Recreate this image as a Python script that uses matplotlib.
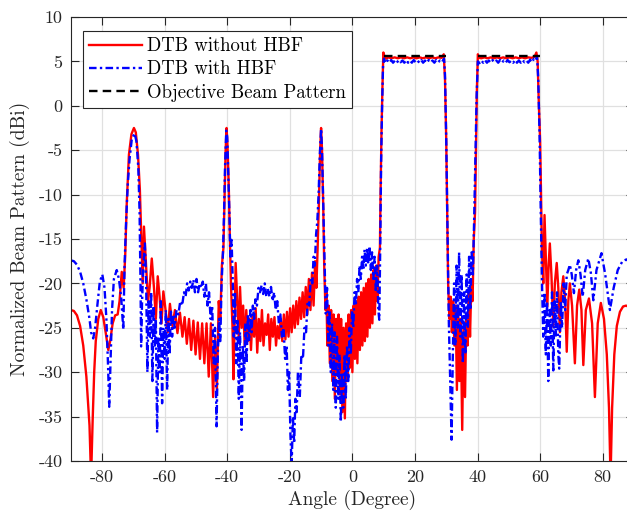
# Beam pattern comparison: DTB with / without HBF against the objective pattern
import numpy as np
import matplotlib
matplotlib.use('Agg')
import matplotlib.pyplot as plt

plt.rcParams['font.family'] = ['cmr10', 'DejaVu Serif']
plt.rcParams['axes.unicode_minus'] = False
plt.rcParams['mathtext.fontset'] = 'cm'

# values (angle in degree, pattern in dBi)
red_pts = [
    (-90, -23.0), (-89, -23.1), (-88, -23.6), (-87, -24.8), (-86, -27.0), (-85, -30.5),
    (-84, -36.0), (-83.5, -42.0), (-83, -35.5), (-82.5, -30.0), (-82, -26.5), (-81.2, -24.0),
    (-80.4, -23.0), (-79.6, -23.8), (-78.8, -25.6), (-78.0, -27.5), (-77.4, -26.5),
    (-76.6, -24.5), (-75.8, -23.6), (-75.0, -23.5), (-74.4, -22.0), (-73.7, -18.7),
    (-73.1, -20.5), (-72.6, -17.0), (-72.1, -11.0), (-71.4, -5.5), (-70.6, -3.2),
    (-69.8, -2.5), (-69.2, -3.0), (-68.5, -5.5), (-67.9, -9.5), (-67.5, -14.0),
    (-67.0, -20.0), (-66.6, -13.6), (-66.0, -17.5), (-65.3, -22.0), (-64.8, -20.5),
    (-64.1, -17.2), (-63.4, -20.5), (-62.8, -24.0), (-62.2, -19.2), (-61.6, -21.5),
    (-61.0, -24.5), (-60.4, -20.9), (-59.7, -23.0), (-59.0, -25.5), (-58.3, -22.3),
    (-57.5, -24.8), (-56.7, -23.0), (-55.9, -25.6), (-55.1, -23.3), (-54.3, -26.0),
    (-53.6, -23.8), (-52.9, -26.8), (-52.2, -24.0), (-51.5, -27.5), (-50.8, -24.2),
    (-50.1, -28.0), (-49.4, -24.4), (-48.7, -28.5), (-48.0, -24.5), (-47.3, -29.0),
    (-46.6, -24.5), (-45.9, -30.5), (-45.2, -24.5), (-44.5, -32.8), (-43.9, -26.0),
    (-43.3, -32.0), (-42.7, -22.0), (-42.2, -24.0), (-41.7, -18.0), (-41.2, -16.0),
    (-40.8, -10.0), (-40.5, -5.0), (-40.2, -2.5), (-39.9, -4.5), (-39.5, -9.0),
    (-39.2, -14.0), (-38.8, -20.0), (-38.3, -25.0), (-38.0, -30.8), (-37.6, -24.0),
    (-37.3, -17.7), (-36.8, -22.0), (-36.3, -26.0), (-35.9, -20.4), (-35.4, -25.0),
    (-34.9, -22.5), (-34.4, -27.0), (-33.9, -23.0), (-33.4, -26.5), (-32.9, -24.0),
    (-32.4, -27.5), (-31.9, -23.5), (-31.4, -26.0), (-30.9, -22.8), (-30.4, -27.8),
    (-29.9, -24.0), (-29.4, -26.5), (-28.9, -23.0), (-28.4, -27.0), (-27.9, -24.5),
    (-27.4, -25.8), (-26.9, -23.5), (-26.4, -27.5), (-25.9, -24.0), (-25.4, -26.0),
    (-24.9, -23.8), (-24.4, -27.0), (-23.9, -24.8), (-23.4, -26.2), (-22.9, -24.0),
    (-22.4, -26.5), (-21.9, -23.5), (-21.4, -26.3), (-20.9, -23.2), (-20.4, -26.0),
    (-19.9, -22.8), (-19.4, -25.5), (-18.9, -22.5), (-18.4, -25.0), (-17.9, -22.0),
    (-17.4, -24.6), (-16.9, -21.6), (-16.4, -24.0), (-15.9, -21.0), (-15.4, -23.8),
    (-14.9, -20.4), (-14.4, -23.5), (-13.9, -19.5), (-13.4, -23.0), (-12.9, -18.8),
    (-12.4, -22.5), (-11.9, -17.5), (-11.5, -20.5), (-11.1, -16.0), (-10.7, -11.0),
    (-10.3, -5.0), (-10.0, -2.5), (-9.7, -5.0), (-9.3, -11.5), (-9.0, -18.0),
    (-8.6, -23.0), (-8.3, -21.0), (-8.0, -27.0), (-7.6, -22.5), (-7.2, -29.0),
    (-6.8, -23.0), (-6.4, -31.0), (-6.0, -23.5), (-5.6, -33.0), (-5.2, -24.0),
    (-4.8, -30.0), (-4.4, -23.5), (-4.0, -32.5), (-3.6, -24.0), (-3.2, -34.5),
    (-2.8, -25.0), (-2.4, -35.2), (-2.0, -24.5), (-1.6, -31.0), (-1.2, -23.5),
    (-0.8, -29.5), (-0.4, -23.0), (0.0, -30.0), (0.4, -22.5), (0.8, -28.5),
    (1.2, -22.0), (1.6, -29.0), (2.0, -21.5), (2.4, -27.5), (2.8, -21.0),
    (3.2, -27.0), (3.6, -20.5), (4.0, -26.5), (4.4, -20.0), (4.8, -26.0),
    (5.2, -19.5), (5.6, -25.0), (6.0, -19.0), (6.4, -24.5), (6.8, -18.5),
    (7.2, -23.5), (7.6, -18.0), (8.0, -22.0), (8.4, -17.0), (8.8, -16.0),
    (9.0, -10.0), (9.3, -3.0), (9.6, 2.0), (9.9, 6.0), (10.3, 5.5), (10.8, 5.3),
    (11.5, 5.45), (12.5, 5.35), (13.5, 5.45), (14.5, 5.35), (15.5, 5.45), (16.5, 5.35),
    (17.5, 5.45), (18.5, 5.35), (19.5, 5.45), (20.5, 5.35), (21.5, 5.45), (22.5, 5.35),
    (23.5, 5.45), (24.5, 5.35), (25.5, 5.45), (26.5, 5.35), (27.5, 5.45), (28.5, 5.4),
    (29.2, 5.8), (29.6, 3.0), (30.0, -4.0), (30.3, -12.0), (30.6, -20.0),
    (31.0, -24.0), (31.4, -21.5), (31.8, -25.5), (32.2, -22.0), (32.6, -27.0),
    (33.0, -22.5), (33.4, -32.0), (33.8, -23.0), (34.2, -31.0), (34.6, -24.0),
    (35.1, -36.5), (35.5, -25.0), (36.0, -32.8), (36.4, -23.5), (36.8, -27.0),
    (37.2, -21.0), (37.6, -26.0), (38.0, -20.0), (38.4, -22.0), (38.8, -15.0),
    (39.2, -12.0), (39.5, -5.0), (39.8, 2.0), (40.1, 5.8), (40.5, 5.4),
    (41.2, 5.35), (42.2, 5.45), (43.2, 5.35), (44.2, 5.45), (45.2, 5.35), (46.2, 5.45),
    (47.2, 5.35), (48.2, 5.45), (49.2, 5.35), (50.2, 5.45), (51.2, 5.35), (52.2, 5.45),
    (53.2, 5.35), (54.2, 5.45), (55.2, 5.35), (56.2, 5.45), (57.2, 5.4), (58.2, 5.5),
    (58.8, 6.0), (59.2, 5.0), (59.6, 0.0), (60.0, -4.0), (60.3, -10.0), (60.6, -16.5),
    (61.0, -20.0), (61.4, -12.3), (61.8, -17.0), (62.3, -22.6), (62.7, -18.0),
    (63.1, -15.5), (63.6, -19.0), (64.2, -24.9), (64.7, -20.0), (65.3, -17.7),
    (65.8, -20.5), (66.3, -25.5), (66.8, -21.0), (67.4, -19.2), (68.0, -22.0),
    (68.5, -27.7), (69.0, -22.0), (69.5, -20.0), (70.2, -22.5), (71.1, -29.0),
    (71.8, -22.5), (72.5, -20.7), (73.2, -23.0), (73.8, -29.2), (74.6, -23.0),
    (75.6, -21.7), (76.6, -24.5), (77.5, -32.8), (78.4, -24.5), (79.4, -22.2),
    (80.4, -24.0), (81.3, -28.0), (82.0, -34.0), (82.5, -42.0), (83.0, -34.0),
    (83.7, -28.0), (84.5, -24.8), (85.5, -23.2), (86.5, -22.6), (87.5, -22.5),
    (88.5, -22.7), (90.0, -23.3),
]

blue_pts = [
    (-90, -17.4), (-89, -17.5), (-88, -17.9), (-87, -18.7), (-86, -20.0), (-85, -21.8),
    (-84, -24.0), (-83.5, -25.5), (-82.8, -26.2), (-82.2, -25.0), (-81.5, -22.5),
    (-80.7, -19.8), (-79.9, -19.0), (-79.2, -20.5), (-78.6, -24.0), (-78.1, -29.0),
    (-77.7, -33.9), (-77.3, -29.0), (-76.8, -23.0), (-76.2, -19.5), (-75.3, -18.5),
    (-74.6, -19.5), (-73.9, -21.5), (-73.2, -25.2), (-72.8, -18.0), (-72.3, -13.0),
    (-71.8, -9.0), (-71.2, -6.0), (-70.5, -3.8), (-69.6, -3.1), (-69.0, -4.0),
    (-68.4, -7.0), (-68.0, -12.0), (-67.7, -20.0), (-67.5, -27.1), (-67.2, -22.0),
    (-66.8, -18.0), (-66.3, -15.5), (-65.9, -20.0), (-65.5, -30.0), (-65.1, -22.0),
    (-64.7, -26.0), (-64.3, -21.0), (-63.9, -31.0), (-63.5, -22.5), (-63.1, -27.0),
    (-62.8, -24.0), (-62.4, -36.8), (-62.0, -26.0), (-61.6, -30.0), (-61.2, -22.0),
    (-60.8, -33.5), (-60.4, -25.0), (-60.0, -28.5), (-59.6, -23.0), (-59.2, -32.0),
    (-58.8, -24.0), (-58.4, -28.0), (-58.0, -23.0), (-57.6, -26.0), (-57.2, -23.5),
    (-56.8, -25.0), (-56.2, -23.0), (-55.6, -23.5), (-55.0, -22.0), (-54.4, -22.5),
    (-53.8, -21.0), (-53.3, -21.5), (-52.8, -20.0), (-52.3, -20.8), (-51.8, -19.8),
    (-51.3, -20.5), (-50.8, -19.6), (-50.3, -21.0), (-49.8, -19.5), (-49.3, -21.0),
    (-48.8, -20.0), (-48.3, -20.5), (-47.8, -19.8), (-47.3, -21.5), (-46.8, -20.0),
    (-46.3, -22.5), (-45.8, -21.0), (-45.3, -24.0), (-44.8, -22.5), (-44.3, -29.0),
    (-43.9, -25.0), (-43.4, -36.1), (-43.0, -28.0), (-42.6, -24.0), (-42.2, -26.5),
    (-41.8, -20.0), (-41.4, -17.0), (-41.0, -12.0), (-40.7, -7.0), (-40.3, -2.8),
    (-40.0, -3.5), (-39.7, -7.0), (-39.3, -12.0), (-39.0, -17.0), (-38.6, -15.1),
    (-38.2, -20.0), (-37.9, -26.0), (-37.5, -21.0), (-37.1, -29.0), (-36.7, -24.0),
    (-36.3, -33.0), (-35.9, -25.5), (-35.4, -36.5), (-35.0, -27.0), (-34.6, -31.0),
    (-34.2, -24.5), (-33.8, -29.0), (-33.4, -23.5), (-33.0, -26.5), (-32.6, -23.0),
    (-32.2, -25.5), (-31.8, -22.5), (-31.4, -24.0), (-31.0, -21.8), (-30.5, -22.5),
    (-30.0, -20.5), (-29.5, -21.0), (-29.0, -20.2), (-28.5, -21.2), (-28.0, -20.0),
    (-27.5, -21.5), (-27.0, -20.6), (-26.5, -21.5), (-26.0, -20.4), (-25.5, -22.0),
    (-25.0, -21.0), (-24.5, -23.0), (-24.0, -22.0), (-23.5, -24.5), (-23.0, -23.5),
    (-22.5, -26.0), (-22.0, -25.0), (-21.5, -28.5), (-21.0, -27.0), (-20.6, -32.0),
    (-20.2, -30.0), (-19.8, -37.0), (-19.4, -40.5), (-19.0, -35.0), (-18.6, -38.0),
    (-18.2, -33.0), (-17.8, -34.5), (-17.4, -30.0), (-16.8, -32.8), (-16.3, -28.0),
    (-15.8, -28.5), (-15.3, -25.0), (-14.8, -25.5), (-14.3, -22.0), (-13.8, -22.5),
    (-13.3, -19.5), (-12.8, -20.0), (-12.4, -17.0), (-12.0, -18.0), (-11.6, -14.5),
    (-11.2, -13.0), (-10.8, -10.0), (-10.4, -5.5), (-10.0, -2.6), (-9.7, -5.0),
    (-9.3, -11.0), (-8.9, -17.5), (-8.5, -23.4), (-8.1, -20.5), (-7.7, -27.0),
    (-7.3, -23.0), (-6.9, -30.0), (-6.5, -24.5), (-6.1, -32.0), (-5.7, -25.5),
    (-5.3, -34.0), (-4.9, -26.0), (-4.5, -33.0), (-4.1, -28.0), (-3.7, -35.6),
    (-3.3, -30.0), (-2.9, -34.0), (-2.5, -28.0), (-2.1, -33.0), (-1.7, -27.0),
    (-1.3, -31.0), (-0.9, -25.0), (-0.5, -28.0), (-0.1, -23.0), (0.3, -25.0),
    (0.7, -21.0), (1.1, -22.5), (1.5, -19.5), (1.9, -21.0), (2.3, -18.0),
    (2.7, -19.5), (3.1, -17.0), (3.5, -18.5), (3.9, -16.2), (4.3, -18.0),
    (4.7, -16.0), (5.1, -17.8), (5.5, -15.8), (5.9, -18.5), (6.3, -16.5),
    (6.7, -19.5), (7.1, -17.0), (7.5, -21.0), (7.9, -18.0), (8.3, -23.0),
    (8.6, -24.1), (8.9, -16.0), (9.2, -6.0), (9.5, 0.0), (9.8, 4.5), (10.1, 5.3),
    (10.6, 4.8), (11.2, 5.1), (11.8, 4.85), (12.4, 5.15), (13.0, 4.85), (13.6, 5.1),
    (14.2, 4.85), (14.8, 5.15), (15.4, 4.9), (16.0, 5.1), (16.6, 4.85), (17.2, 5.15),
    (17.8, 4.85), (18.4, 5.1), (19.0, 4.85), (19.6, 5.15), (20.2, 4.9), (20.8, 5.1),
    (21.4, 4.85), (22.0, 5.15), (22.6, 4.85), (23.2, 5.1), (23.8, 4.85), (24.4, 5.15),
    (25.0, 4.9), (25.6, 5.1), (26.2, 4.85), (26.8, 5.15), (27.4, 4.9), (28.0, 5.1),
    (28.6, 4.9), (29.3, 5.3), (29.6, 3.5), (30.0, -4.0), (30.4, -14.0), (30.8, -24.0),
    (31.2, -30.0), (31.7, -37.6), (32.1, -28.0), (32.5, -20.0), (32.9, -27.0),
    (33.3, -18.0), (33.7, -25.0), (34.1, -16.5), (34.5, -26.0), (34.9, -19.0),
    (35.3, -29.0), (35.7, -21.0), (36.1, -28.0), (36.5, -19.0), (36.9, -25.0),
    (37.3, -17.0), (37.7, -23.0), (38.1, -16.5), (38.5, -19.0), (38.9, -13.0),
    (39.3, -6.0), (39.7, 1.0), (40.1, 5.0), (40.6, 4.8), (41.2, 5.1), (41.8, 4.85),
    (42.4, 5.15), (43.0, 4.85), (43.6, 5.1), (44.2, 4.85), (44.8, 5.15), (45.4, 4.9),
    (46.0, 5.1), (46.6, 4.85), (47.2, 5.15), (47.8, 4.85), (48.4, 5.1), (49.0, 4.85),
    (49.6, 5.15), (50.2, 4.9), (50.8, 5.1), (51.4, 4.85), (52.0, 5.15), (52.6, 4.85),
    (53.2, 5.1), (53.8, 4.85), (54.4, 5.15), (55.0, 4.9), (55.6, 5.1), (56.2, 4.85),
    (56.8, 5.2), (57.4, 4.9), (58.0, 5.3), (58.6, 5.1), (59.0, 5.6), (59.4, 3.0),
    (59.8, -3.0), (60.2, -12.0), (60.6, -20.0), (61.0, -26.0), (61.4, -21.0),
    (61.8, -28.0), (62.2, -22.0), (62.6, -31.0), (63.0, -23.0), (63.4, -27.0),
    (63.8, -21.0), (64.2, -29.8), (64.6, -22.0), (65.0, -26.0), (65.4, -21.0),
    (65.8, -28.0), (66.1, -29.6), (66.6, -22.0), (67.0, -25.0), (67.5, -20.0),
    (68.0, -23.0), (68.5, -19.0), (69.0, -18.5), (69.5, -17.9), (70.1, -19.0),
    (70.8, -21.1), (71.5, -18.5), (72.2, -17.4), (72.9, -19.0), (73.6, -21.5),
    (74.4, -18.5), (75.4, -17.2), (76.2, -18.8), (77.0, -21.9), (78.0, -18.5),
    (79.6, -16.6), (80.8, -19.0), (82.3, -23.0), (83.5, -20.5), (84.8, -18.5),
    (86.3, -17.5), (87.6, -17.3), (89.0, -17.8), (90.0, -18.5),
]

# objective beam pattern: flat level over the two beam sectors
obj_deg = [10, 30, np.nan, 40, 60]
obj_db = [5.6, 5.6, np.nan, 5.6, 5.6]

x_ticks = [-80, -60, -40, -20, 0, 20, 40, 60, 80]
y_ticks = [-40, -35, -30, -25, -20, -15, -10, -5, 0, 5, 10]

red = np.array(red_pts)
blue = np.array(blue_pts)

fig = plt.figure(figsize=(6.27, 5.16), dpi=100)
ax = fig.add_axes([0.1128, 0.1066, 0.8984, 0.8605])

ax.plot(red[:, 0], red[:, 1], '-', color='#ff0000', linewidth=1.7, label='DTB without HBF')
ax.plot(blue[:, 0], blue[:, 1], '-.', color='#0000ff', linewidth=1.7,
        dashes=(3.2, 1.4, 1.0, 1.4), label='DTB with HBF')
ax.plot(obj_deg, obj_db, '--', color='k', linewidth=1.7, dashes=(3.6, 2.2),
        label='Objective Beam Pattern')

ax.set_xlim(-90, 90)
ax.set_ylim(-40, 10)
ax.set_xticks(x_ticks)
ax.set_xticklabels([str(v) for v in x_ticks])
ax.set_yticks(y_ticks)
ax.set_yticklabels([str(v) for v in y_ticks])
ax.grid(True, color='#e0e0e0', linewidth=0.9)
ax.set_axisbelow(True)
ax.tick_params(direction='in', length=6, width=0.8, colors='#262626',
               labelsize=13, top=True, right=True, pad=6)
for s in ax.spines.values():
    s.set_color('#262626')
    s.set_linewidth(0.8)

ax.set_xlabel('Angle (Degree)', fontsize=14, color='#262626', labelpad=4)
ax.set_ylabel('Normalized Beam Pattern (dBi)', fontsize=14, color='#262626', labelpad=6)

leg = ax.legend(loc='upper left', bbox_to_anchor=(0.022, 0.968), fontsize=13.5,
                fancybox=False, framealpha=1, edgecolor='#262626',
                handlelength=2.8, handletextpad=0.3, labelspacing=0.28,
                borderpad=0.32, borderaxespad=0)
leg.get_frame().set_linewidth(0.8)

fig.savefig('out.png', dpi=100)
